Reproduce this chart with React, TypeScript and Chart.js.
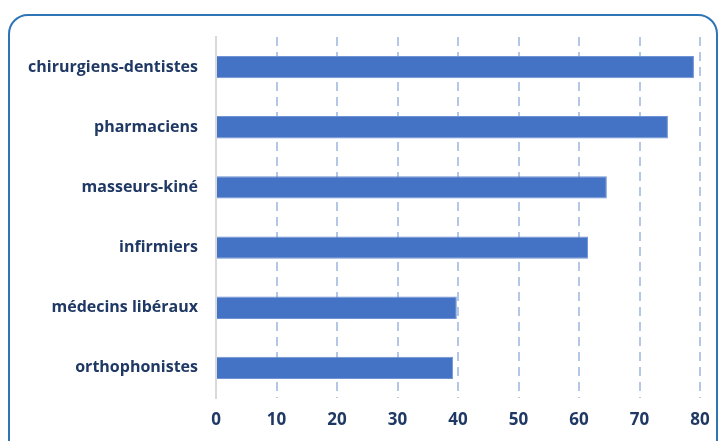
import React, { useEffect, useRef } from "react";
import { Chart, registerables } from "chart.js";

Chart.register(...registerables);

const categories = [
  "chirurgiens-dentistes",
  "pharmaciens",
  "masseurs-kiné",
  "infirmiers",
  "médecins libéraux",
  "orthophonistes",
];
const values = [79.0, 74.7, 64.6, 61.5, 39.8, 39.2];
const xMin = 0;
const xMax = 80;
const xStep = 10;

export default function App() {
  const ref = useRef<HTMLCanvasElement | null>(null);

  useEffect(() => {
    if (!ref.current) return;
    const navy = "#1F3864";
    const font = { family: "'Open Sans', Lato, sans-serif", weight: "bold" as const };
    const chart = new Chart(ref.current, {
      type: "bar",
      data: {
        labels: categories,
        datasets: [
          {
            data: values,
            backgroundColor: "#4472C4",
            borderColor: "#6F93D3",
            borderWidth: 1,
            barPercentage: 0.37,
            categoryPercentage: 1,
          },
        ],
      },
      options: {
        indexAxis: "y",
        animation: false,
        responsive: false,
        maintainAspectRatio: false,
        layout: { padding: { top: 37, right: 22, bottom: 0, left: 0 } },
        plugins: { legend: { display: false }, tooltip: { enabled: false } },
        scales: {
          x: {
            min: xMin,
            max: xMax,
            ticks: {
              stepSize: xStep,
              color: navy,
              font: { ...font, size: 17 },
              padding: 12,
            },
            grid: {
              drawTicks: false,
              lineWidth: 2,
              color: (ctx: any) => (ctx.index === 0 ? "rgba(0,0,0,0)" : "#B4C7E7"),
            },
            border: { display: false, dash: [9, 6] },
            afterFit: (s: any) => {
              s.height = 43;
            },
          },
          y: {
            ticks: {
              color: navy,
              font: { ...font, size: 16 },
              padding: 18,
            },
            grid: { display: false, drawTicks: false },
            border: { display: true, color: "#D9D9D9", width: 2 },
            afterFit: (s: any) => {
              s.width = 216;
            },
          },
        },
      },
    });
    return () => chart.destroy();
  }, []);

  return (
    <div style={{ position: "fixed", left: 0, top: 0, width: 722, height: 441, overflow: "hidden", background: "#fff" }}>
      <div
        style={{
          position: "absolute",
          left: 8,
          top: 14,
          width: 710,
          height: 460,
          border: "2px solid #2E75B6",
          borderRadius: 20,
          boxSizing: "border-box",
        }}
      />
      <canvas ref={ref} width={722} height={441} style={{ position: "absolute", left: 0, top: 0 }} />
    </div>
  );
}
